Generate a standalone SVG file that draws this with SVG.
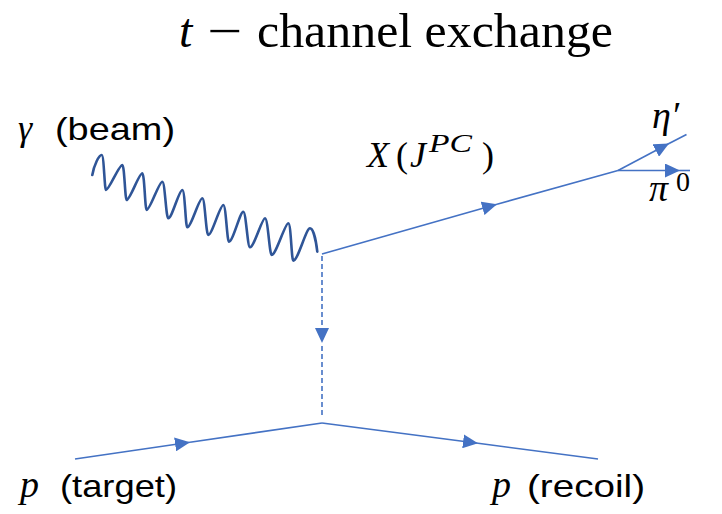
<svg xmlns="http://www.w3.org/2000/svg" width="722" height="514" viewBox="0 0 722 514">
<style>
.ln{fill:none;stroke:#4472C4;stroke-width:1.6}
.dash{stroke-dasharray:5,3}
.math{font-family:"Liberation Serif","DejaVu Serif",serif;font-style:italic;fill:#000}
.rm{font-family:"Liberation Serif","DejaVu Serif",serif;fill:#000}
.sans{font-family:"Liberation Sans","Open Sans",sans-serif;fill:#000}
.wave{fill:none;stroke:#2F5597;stroke-width:2.6;stroke-linecap:round;stroke-linejoin:round}
</style>
<defs>
<marker id="arr" markerUnits="userSpaceOnUse" viewBox="0 0 15 14" refX="15" refY="7" markerWidth="15" markerHeight="14" orient="auto">
<path d="M0,0 L15,7 L0,14 Z" fill="#4472C4"/>
</marker>
</defs>
<rect width="722" height="514" fill="#fff"/>
<g id="title">
<text class="math" x="179" y="47" font-size="48">t</text>
<text class="rm" x="207" y="47" font-size="48" textLength="35" lengthAdjust="spacingAndGlyphs">−</text>
<text class="rm" x="257" y="47" font-size="48" textLength="356" lengthAdjust="spacingAndGlyphs">channel exchange</text>
</g>
<g id="photon">
<path class="wave" d="M92.3,175 C94,165 99,155 101.7,155 C104,155 104.5,190 106,190 C109,190 119,165 122.3,165 C124.5,165 125,200 126.7,200 C130,200 139,173.3 142.3,173.3 C144.5,173.3 145,210 146.7,210 C150,210 159,181.7 162.3,181.7 C165,181.7 166,218.3 168.3,218.3 C172,218.3 179,190 182.3,190 C185,190 185.5,227.3 187.3,227.3 C191,227.3 199,198.3 202.3,198.3 C205,198.3 206,235 208.3,235 C212,235 220,205 223.3,205 C226,205 227,241.7 229,241.7 C233,241.7 240,211.7 243.3,211.7 C246,211.7 247.5,247.3 250,247.3 C254,247.3 262,218.3 265,218.3 C268,218.3 269.5,255 271.7,255 C276,255 285,223.3 288.3,223.3 C291,223.3 291.5,260.7 293.3,260.7 C298,260.7 306,228.3 310,228.3 C313,228.3 316,240 317.3,251.7"/>
<text class="math" x="18" y="140" font-size="36">γ</text>
<text class="sans" x="55" y="140" font-size="32" textLength="120" lengthAdjust="spacingAndGlyphs">(beam)</text>
</g>
<g id="meson">
<text class="math" x="367" y="167" font-size="36">X</text>
<text class="rm" x="396" y="167" font-size="36">(</text>
<text class="math" x="410" y="167" font-size="36">J</text>
<text class="math" x="429" y="152" font-size="26" textLength="43" lengthAdjust="spacingAndGlyphs">PC</text>
<text class="rm" x="482" y="167" font-size="36">)</text>
</g>
<g id="eta">
<text class="math" x="652" y="128" font-size="38">η′</text>
</g>
<g id="pi0">
<text class="math" x="649" y="201" font-size="38">π</text>
<text class="rm" x="676" y="191" font-size="28">0</text>
</g>
<g id="target">
<text class="math" x="20" y="497" font-size="38">p</text>
<text class="sans" x="60" y="497" font-size="32" textLength="117" lengthAdjust="spacingAndGlyphs">(target)</text>
</g>
<g id="recoil">
<text class="math" x="492" y="497" font-size="38">p</text>
<text class="sans" x="527" y="497" font-size="32" textLength="118" lengthAdjust="spacingAndGlyphs">(recoil)</text>
</g>
<g id="connectors">
<path class="ln" d="M322,254 L497,204.2" marker-end="url(#arr)"/>
<path class="ln" d="M497,204.2 L618,170.5"/>
<path class="ln" d="M618,170.5 L669,143.5" marker-end="url(#arr)"/>
<path class="ln" d="M669,143.5 L686.5,134.5"/>
<path class="ln" d="M618,170.5 L680,170.5" marker-end="url(#arr)"/>
<path class="ln" d="M680,170.5 L690,170.5"/>
<path class="ln dash" d="M322,256 L322,343" marker-end="url(#arr)"/>
<path class="ln dash" d="M322,346 L322,418"/>
<path class="ln" d="M75,459 L190,442.2" marker-end="url(#arr)"/>
<path class="ln" d="M190,442.2 L322,423"/>
<path class="ln" d="M322,423 L478,443.3" marker-end="url(#arr)"/>
<path class="ln" d="M478,443.3 L598,459"/>
</g>
</svg>
